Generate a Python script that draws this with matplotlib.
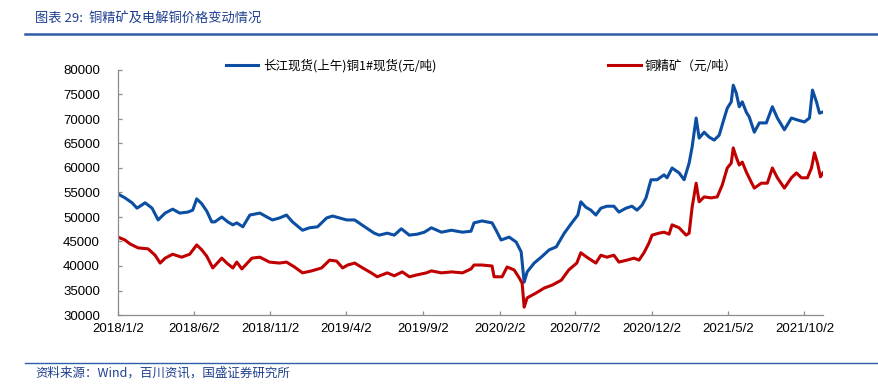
import pandas as pd
import matplotlib
matplotlib.use('Agg')
import matplotlib.pyplot as plt
from matplotlib.lines import Line2D

plt.rcParams['font.family'] = ['Liberation Sans', 'Noto Sans CJK SC', 'DejaVu Sans']

# 长江现货(上午)铜1#现货 (元/吨)
cu_dates = ['2018-01-02', '2018-01-16', '2018-01-30', '2018-02-09', '2018-02-25', '2018-03-11',
            '2018-03-23', '2018-04-06', '2018-04-21', '2018-05-05', '2018-05-21', '2018-05-31',
            '2018-06-08', '2018-06-18', '2018-06-28', '2018-07-08', '2018-07-14', '2018-07-28',
            '2018-08-09', '2018-08-19', '2018-08-27', '2018-09-08', '2018-09-22', '2018-10-12',
            '2018-10-26', '2018-11-06', '2018-11-20', '2018-12-04', '2018-12-16', '2019-01-05',
            '2019-01-19', '2019-02-04', '2019-02-22', '2019-03-06', '2019-03-20', '2019-04-03',
            '2019-04-19', '2019-05-09', '2019-05-28', '2019-06-07', '2019-06-23', '2019-07-07',
            '2019-07-21', '2019-08-06', '2019-08-22', '2019-09-05', '2019-09-19', '2019-10-09',
            '2019-10-29', '2019-11-20', '2019-12-07', '2019-12-13', '2019-12-29', '2020-01-18',
            '2020-01-26', '2020-02-05', '2020-02-21', '2020-03-06', '2020-03-16', '2020-03-22',
            '2020-03-28', '2020-04-11', '2020-04-25', '2020-05-11', '2020-05-25', '2020-06-10',
            '2020-06-25', '2020-07-07', '2020-07-13', '2020-07-23', '2020-08-02', '2020-08-12',
            '2020-08-22', '2020-09-03', '2020-09-17', '2020-09-27', '2020-10-11', '2020-10-23',
            '2020-11-02', '2020-11-12', '2020-11-20', '2020-11-30', '2020-12-12', '2020-12-26',
            '2021-01-01', '2021-01-11', '2021-01-25', '2021-02-04', '2021-02-14', '2021-02-20',
            '2021-02-28', '2021-03-06', '2021-03-16', '2021-03-26', '2021-04-05', '2021-04-15',
            '2021-04-21', '2021-05-01', '2021-05-09', '2021-05-13', '2021-05-19', '2021-05-25',
            '2021-05-31', '2021-06-08', '2021-06-14', '2021-06-24', '2021-07-04', '2021-07-18',
            '2021-07-30', '2021-08-09', '2021-08-23', '2021-09-06', '2021-09-18', '2021-10-02',
            '2021-10-12', '2021-10-18', '2021-10-26', '2021-11-01', '2021-11-07']
cu_price = [54700, 53900, 52900, 51800, 52900, 51800,
            49400, 50800, 51600, 50800, 51000, 51400,
            53700, 52700, 51200, 49000, 49000, 50000,
            49000, 48400, 48800, 48000, 50400, 50800,
            50000, 49400, 49800, 50400, 49000, 47300,
            47800, 48000, 49800, 50200, 49800, 49400,
            49400, 48000, 46700, 46300, 46700, 46300,
            47600, 46300, 46500, 46900, 47800, 46900,
            47300, 46900, 47100, 48800, 49200, 48800,
            47300, 45300, 45900, 44900, 42900, 36700,
            38800, 40600, 41800, 43300, 43900, 46700,
            48800, 50400, 53100, 52000, 51400, 50400,
            51800, 52200, 52200, 51000, 51800, 52200,
            51400, 52400, 53900, 57600, 57600, 58600,
            58000, 60000, 59000, 57600, 61000, 64300,
            70200, 66100, 67300, 66300, 65700, 66700,
            68800, 72200, 73500, 76900, 75300, 72500,
            73500, 71400, 70400, 67300, 69200, 69200,
            72500, 70200, 67800, 70200, 69800, 69400,
            70200, 75900, 73500, 71200, 71400]

# 铜精矿 (元/吨)
ore_dates = ['2018-01-02', '2018-01-16', '2018-01-26', '2018-02-11', '2018-03-03', '2018-03-17',
             '2018-03-27', '2018-04-06', '2018-04-21', '2018-05-09', '2018-05-25', '2018-06-08',
             '2018-06-18', '2018-06-28', '2018-07-10', '2018-07-28', '2018-08-07', '2018-08-19',
             '2018-08-27', '2018-09-06', '2018-09-26', '2018-10-12', '2018-10-31', '2018-11-20',
             '2018-12-04', '2018-12-20', '2019-01-05', '2019-01-23', '2019-02-12', '2019-02-28',
             '2019-03-14', '2019-03-26', '2019-04-05', '2019-04-19', '2019-05-05', '2019-05-22',
             '2019-06-03', '2019-06-23', '2019-07-07', '2019-07-23', '2019-08-06', '2019-08-22',
             '2019-09-09', '2019-09-19', '2019-10-09', '2019-10-29', '2019-11-20', '2019-12-07',
             '2019-12-13', '2019-12-29', '2020-01-18', '2020-01-22', '2020-02-07', '2020-02-17',
             '2020-03-02', '2020-03-12', '2020-03-18', '2020-03-22', '2020-03-28', '2020-04-15',
             '2020-05-01', '2020-05-17', '2020-06-04', '2020-06-19', '2020-07-05', '2020-07-13',
             '2020-07-25', '2020-08-12', '2020-08-22', '2020-09-03', '2020-09-17', '2020-09-27',
             '2020-10-13', '2020-10-27', '2020-11-06', '2020-11-16', '2020-11-26', '2020-12-02',
             '2020-12-16', '2020-12-26', '2021-01-05', '2021-01-11', '2021-01-25', '2021-02-08',
             '2021-02-14', '2021-02-20', '2021-02-28', '2021-03-06', '2021-03-16', '2021-03-30',
             '2021-04-11', '2021-04-21', '2021-05-01', '2021-05-09', '2021-05-13', '2021-05-19',
             '2021-05-25', '2021-05-31', '2021-06-08', '2021-06-18', '2021-06-24', '2021-07-08',
             '2021-07-20', '2021-07-30', '2021-08-09', '2021-08-23', '2021-09-06', '2021-09-16',
             '2021-09-26', '2021-10-08', '2021-10-16', '2021-10-22', '2021-10-28', '2021-11-03',
             '2021-11-08']
ore_price = [45900, 45300, 44500, 43700, 43500, 42200,
             40600, 41600, 42400, 41800, 42400, 44300,
             43300, 42000, 39600, 41600, 40600, 39600,
             40800, 39400, 41600, 41800, 40800, 40600,
             40800, 39800, 38600, 39000, 39600, 41200,
             41000, 39600, 40200, 40600, 39600, 38600,
             37800, 38600, 38000, 38800, 37800, 38200,
             38600, 39000, 38600, 38800, 38600, 39400,
             40200, 40200, 40000, 37800, 37800, 39800,
             39200, 37600, 36500, 31600, 33500, 34500,
             35500, 36100, 37100, 39200, 40600, 42700,
             41800, 40600, 42200, 41800, 42200, 40800,
             41200, 41600, 41200, 42700, 44700, 46300,
             46700, 46900, 46500, 48400, 47800, 46300,
             46700, 52000, 56900, 53100, 54100, 53900,
             54100, 56500, 60000, 61000, 64100, 62200,
             60600, 61200, 59200, 57100, 55900, 56900,
             56900, 60000, 58000, 55900, 58000, 59000,
             58000, 58000, 60000, 63100, 61000, 58200,
             59000]

tick_labels = ['2018/1/2', '2018/6/2', '2018/11/2', '2019/4/2', '2019/9/2',
               '2020/2/2', '2020/7/2', '2020/12/2', '2021/5/2', '2021/10/2']

cu_label = '长江现货(上午)铜1#现货(元/吨)'
ore_label = '铜精矿（元/吨）'
title = '图表 29:  铜精矿及电解铜价格变动情况'
source = '资料来源：Wind，百川资讯，国盛证券研究所'

blue = '#0B4EA2'
red = '#C00000'
navy = '#1F3F8F'

fig = plt.figure(figsize=(8.79, 3.91), dpi=100)
ax = fig.add_axes([118 / 879, 76 / 391, 705 / 879, 245 / 391])

line_cu, = ax.plot(pd.to_datetime(cu_dates), cu_price, color=blue, lw=2.2)
line_ore, = ax.plot(pd.to_datetime(ore_dates), ore_price, color=red, lw=2.2)

ax.set_ylim(30000, 80000)
ax.set_yticks(range(30000, 80001, 5000))
ax.set_xlim(pd.Timestamp('2018-01-02'), pd.Timestamp('2021-11-08'))
ax.set_xticks(pd.to_datetime(tick_labels, format='%Y/%m/%d'))
ax.set_xticklabels(tick_labels)

for side in ['top', 'right']:
    ax.spines[side].set_visible(False)
for side in ['left', 'bottom']:
    ax.spines[side].set_color('#8C8C8C')
    ax.spines[side].set_linewidth(0.9)
ax.tick_params(direction='in', length=3, width=0.9, color='#8C8C8C',
               labelsize=9.5, labelcolor='black')
ax.tick_params(axis='x', pad=6)
ax.tick_params(axis='y', pad=13)

# legends sit above the plot, one per series
leg_kw = dict(frameon=False, loc='center left', borderpad=0, borderaxespad=0,
              handlelength=2.6, handletextpad=0.35, prop={'family': 'Noto Sans CJK SC', 'size': 9})
leg1 = ax.legend([line_cu], [cu_label], bbox_to_anchor=(226 / 879, 1 - 66 / 391),
                 bbox_transform=fig.transFigure, **leg_kw)
ax.add_artist(leg1)
ax.legend([line_ore], [ore_label], bbox_to_anchor=(608 / 879, 1 - 66 / 391),
          bbox_transform=fig.transFigure, **leg_kw)

# header and footer
fig.text(35 / 879, 1 - 18 / 391, title, color=navy, fontsize=9.5, style='italic',
         family=['Noto Sans CJK SC', 'DejaVu Sans'], va='center', ha='left')
fig.add_artist(Line2D([25 / 879, 1], [1 - 34 / 391] * 2, color='#2F5DA8', lw=1.8,
                      transform=fig.transFigure))
fig.add_artist(Line2D([25 / 879, 1], [1 - 363 / 391] * 2, color='#2F5DA8', lw=1.0,
                      transform=fig.transFigure))
fig.text(35 / 879, 1 - 373 / 391, source, color=navy, fontsize=9, style='italic',
         family=['Noto Sans CJK SC', 'DejaVu Sans'], va='center', ha='left')

fig.savefig('out.png', dpi=100)
